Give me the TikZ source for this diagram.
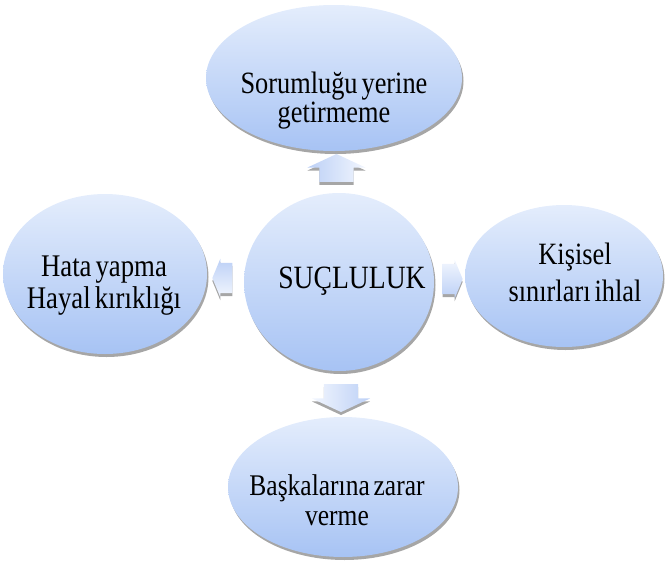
\documentclass[tikz,border=0pt]{standalone}
\usepackage{fontspec}
\setmainfont{Liberation Serif}[FakeStretch=0.85,WordSpace=0.6]
\usetikzlibrary{shapes.geometric,shapes.arrows,shadows,calc}
\definecolor{ballTop}{HTML}{E4EDFC}
\definecolor{ballBot}{HTML}{A7C3F4}
\definecolor{arrTop}{HTML}{F2F6FE}
\definecolor{arrBot}{HTML}{BCD0F6}
\tikzset{
  ball/.style={ellipse, inner sep=0pt, draw=none, top color=ballTop, bottom color=ballBot,
    drop shadow={shadow xshift=1.5pt, shadow yshift=-3pt, fill=black, opacity=.35}},
  lbl/.style={align=center, inner sep=0pt},
  blockarrow/.style={single arrow, inner xsep=0pt, draw=none,
    drop shadow={shadow xshift=0pt, shadow yshift=-3pt, fill=black, opacity=.35}}
}
\begin{document}
\begin{tikzpicture}[x=1pt,y=-1pt]
\useasboundingbox (0,0) rectangle (665,563);
% balloons
\node[ball, minimum width=256pt, minimum height=146pt] (duty) at (334,78) {};
\node[ball, minimum width=204pt, minimum height=160pt] (mistake) at (105,274) {};
\node[ball, minimum width=198pt, minimum height=142pt] (limits) at (564,276) {};
\node[ball, minimum width=230pt, minimum height=140pt] (harm) at (343,487) {};
\node[ball, minimum width=190pt, minimum height=178pt] (guilt) at (339,282) {};
% arrows
\node[blockarrow, rotate=90, left color=arrBot, right color=arrTop, inner ysep=17pt,
  minimum height=28pt, single arrow head extend=12pt, single arrow tip angle=130]
  (up) at ($(guilt.north)!0.5!(duty.south)$) {};
\node[blockarrow, rotate=-90, left color=arrTop, right color=arrBot, inner ysep=17pt,
  minimum height=28pt, single arrow head extend=12pt, single arrow tip angle=130]
  (down) at ($(guilt.south)!0.5!(harm.north)$) {};
\node[blockarrow, rotate=180, top color=arrBot, bottom color=arrTop, inner ysep=15pt,
  minimum height=20pt, single arrow head extend=4pt, single arrow tip angle=135]
  (left) at ($(guilt.west)!0.5!(mistake.east)$) {};
\node[blockarrow, top color=arrTop, bottom color=arrBot, inner ysep=15pt,
  minimum height=20pt, single arrow head extend=4pt, single arrow tip angle=135]
  (right) at ($(guilt.east)!0.5!(limits.west)$) {};
% texts
\node[lbl, font=\fontsize{31}{29}\selectfont] (dutyText) at (334,101) {Sorumluğu yerine\\getirmeme};
\node[lbl, font=\fontsize{32.5}{32}\selectfont] (guiltText) at (352,281) {SUÇLULUK};
\node[lbl, font=\fontsize{31.5}{32}\selectfont] (mistakeText) at (104,286) {Hata yapma\\Hayal kırıklığı};
\node[lbl, font=\fontsize{31}{37}\selectfont] (limitsText) at (575,272) {Kişisel\\sınırları ihlal};
\node[lbl, font=\fontsize{30}{30}\selectfont] (harmText) at (337,500) {Başkalarına zarar\\verme};
\end{tikzpicture}
\end{document}
